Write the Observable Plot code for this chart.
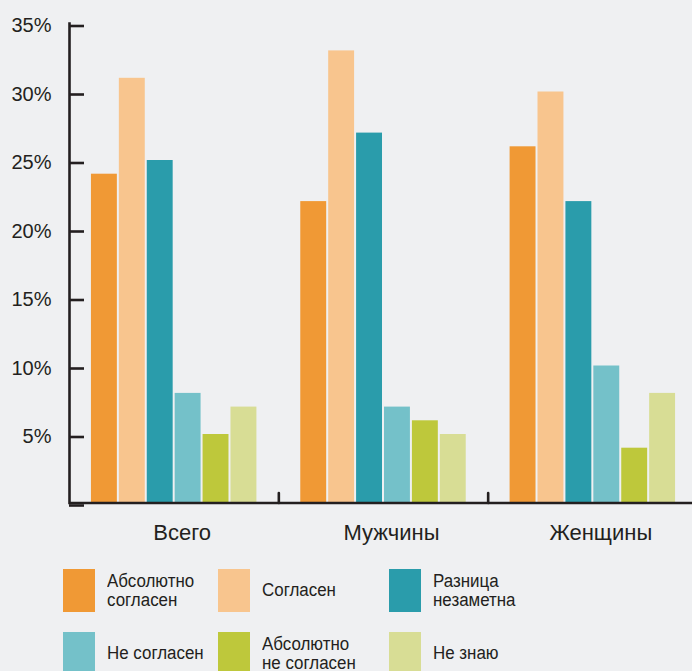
<!DOCTYPE html>
<html>
<head>
<meta charset="utf-8">
<script src="https://cdn.jsdelivr.net/npm/d3@7"></script>
<script src="https://cdn.jsdelivr.net/npm/@observablehq/plot@0.6"></script>
<style>
  html, body { margin: 0; padding: 0; background: #eff0f2; }
  #wrap { position: relative; width: 692px; height: 671px; overflow: hidden; background: #eff0f2; }
  #chart { position: absolute; left: 0; top: 0; }
  .item { position: absolute; display: flex; align-items: center; height: 43px; }
  .sw { width: 32px; height: 43px; flex: none; }
  .lab { margin-left: 12px; font-family: "Liberation Sans", Arial, sans-serif; font-size: 18px; line-height: 19px; color: #231f20; white-space: nowrap; transform: scaleX(0.94); transform-origin: left center; }
</style>
</head>
<body>
<div id="wrap"><div id="chart"></div><div id="legend"></div></div>
<script>
const groups = ["Всего", "Мужчины", "Женщины"];
const categories = ["Абсолютно согласен", "Согласен", "Разница незаметна", "Не согласен", "Абсолютно не согласен", "Не знаю"];
const legendLines = [["Абсолютно", "согласен"], ["Согласен"], ["Разница", "незаметна"], ["Не согласен"], ["Абсолютно", "не согласен"], ["Не знаю"]];
const colors = ["#f09935", "#f8c58e", "#2a9cab", "#74c1c9", "#bec83b", "#d8dd95"];
const valuesTotal = [24, 31, 25, 8, 5, 7];
const valuesMen = [22, 33, 27, 7, 6, 5];
const valuesWomen = [26, 30, 22, 10, 4, 8];
const yTicks = [0, 5, 10, 15, 20, 25, 30, 35];

const seriesByGroup = [valuesTotal, valuesMen, valuesWomen];
const data = groups.flatMap((g, gi) => categories.map((c, ci) => ({group: g, category: c, value: seriesByGroup[gi][ci]})));

const ink = "#231f20";
const lineShape = { draw(ctx, l) { ctx.moveTo(0, 0); ctx.lineTo(0, -l); } };

const plot = Plot.plot({
  width: 692,
  height: 550,
  marginTop: 23,
  marginBottom: 47.5,
  marginLeft: 69,
  marginRight: -5,
  style: { background: "transparent", fontFamily: "'Liberation Sans', Arial, sans-serif", color: ink },
  fx: { domain: groups, padding: 0, round: false },
  x: { domain: categories, paddingInner: 0.0714, paddingOuter: 0.786, round: false, axis: null },
  y: { domain: [0, 35] },
  color: { domain: categories, range: colors },
  marks: [
    Plot.barY(data, { fx: "group", x: "category", y: "value", fill: "category" }),
    Plot.ruleY([0], { stroke: ink, strokeWidth: 2.6 }),
    Plot.frame({ anchor: "left", facetAnchor: "left", stroke: ink, strokeWidth: 2.6 }),
    Plot.vector(groups.slice(0, 2), { fx: d => d, frameAnchor: "bottom-right", length: 10, anchor: "start", shape: lineShape, stroke: ink, strokeWidth: 2.6 }),
    Plot.axisY({ ticks: yTicks, tickFormat: d => d === 0 ? "" : d + "%", tickSize: -15, tickPadding: 33, fontSize: 20, strokeWidth: 2.6, stroke: ink, fill: ink, dy: 2.5, label: null }),
    Plot.axisFx({ anchor: "bottom", tickSize: 0, tickPadding: 21, fontSize: 22, dx: 8, label: null, fill: ink })
  ]
});
document.getElementById("chart").appendChild(plot);

const legendPos = [
  [63, 569], [218, 569], [389, 569],
  [63, 632], [218, 632], [389, 632]
];
const legend = document.getElementById("legend");
categories.forEach((c, i) => {
  const item = document.createElement("div");
  item.className = "item";
  item.style.left = legendPos[i][0] + "px";
  item.style.top = legendPos[i][1] + "px";
  const sw = document.createElement("div");
  sw.className = "sw";
  sw.style.background = plot.scale("color").apply(c);
  const lab = document.createElement("div");
  lab.className = "lab";
  lab.innerHTML = legendLines[i].join("<br>");
  item.appendChild(sw);
  item.appendChild(lab);
  legend.appendChild(item);
});
</script>
</body>
</html>
